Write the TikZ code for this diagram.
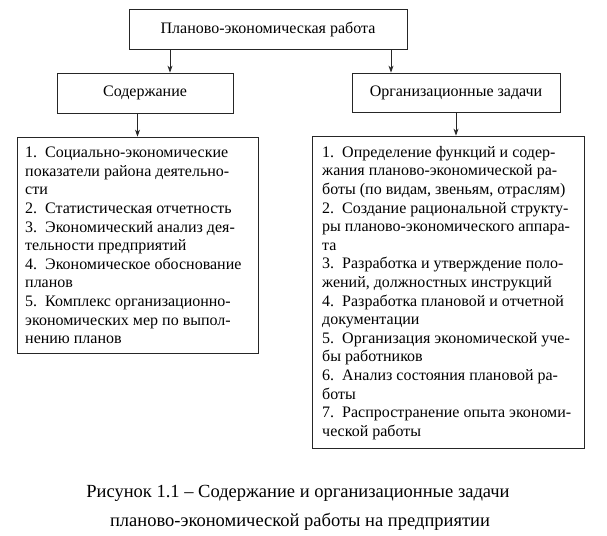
\documentclass[tikz,border=0pt]{standalone}
\usepackage{fontspec}
\setmainfont{Liberation Serif}
\usetikzlibrary{arrows.meta}
\tikzset{
  box/.style={draw=black!85, line width=0.8pt, inner sep=0pt, font=\fontsize{16}{19}\selectfont},
  frame/.style={draw=black!85, line width=0.8pt, inner sep=0pt},
  listtext/.style={inner sep=0pt, anchor=north west, align=left, font=\fontsize{16}{18.6}\selectfont},
  arr/.style={draw=black!85, line width=0.8pt, -{Stealth[length=7pt,width=5pt]}},
  captext/.style={font=\fontsize{18.5}{22}\selectfont}
}
\begin{document}
\begin{tikzpicture}[x=1pt,y=-1pt]
\useasboundingbox (0,0) rectangle (607,535);
\node[box, minimum width=278pt, minimum height=40pt] (top) at (268,29) {Планово-экономическая работа};
\node[box, minimum width=176pt, minimum height=40pt] (cont) at (145,93) {Содержание};
\node[box, minimum width=208pt, minimum height=39pt] (org) at (456,92.5) {Организационные задачи};
\node[frame, minimum width=241pt, minimum height=216pt] (clist) at (137.5,245) {};
\node[frame, minimum width=272pt, minimum height=312pt] (olist) at (448,292) {};
\node[listtext] (ctext) at (25,147) {%
1.\enspace Социально-экономические\\
показатели района деятельно-\\
сти\\
2.\enspace Статистическая отчетность\\
3.\enspace Экономический анализ дея-\\
тельности предприятий\\
4.\enspace Экономическое обоснование\\
планов\\
5.\enspace Комплекс организационно-\\
экономических мер по выпол-\\
нению планов};
\node[listtext] (otext) at (322,146) {%
1.\enspace Определение функций и содер-\\
жания планово-экономической ра-\\
боты (по видам, звеньям, отраслям)\\
2.\enspace Создание рациональной структу-\\
ры планово-экономического аппара-\\
та\\
3.\enspace Разработка и утверждение поло-\\
жений, должностных инструкций\\
4.\enspace Разработка плановой и отчетной\\
документации\\
5.\enspace Организация экономической уче-\\
бы работников\\
6.\enspace Анализ состояния плановой ра-\\
боты\\
7.\enspace Распространение опыта экономи-\\
ческой работы};
\coordinate (a1) at (170,0);
\coordinate (a2) at (391,0);
\draw[arr] (top.south -| a1) -- (cont.north -| a1);
\draw[arr] (top.south -| a2) -- (org.north -| a2);
\draw[arr] (cont.south -| clist.north) -- (clist.north);
\draw[arr] (org.south) -- (olist.north -| org.south);
\node[captext] (cap1) at (298,493) {Рисунок 1.1 – Содержание и организационные задачи};
\node[captext] (cap2) at (300,522) {планово-экономической работы на предприятии};
\end{tikzpicture}
\end{document}
